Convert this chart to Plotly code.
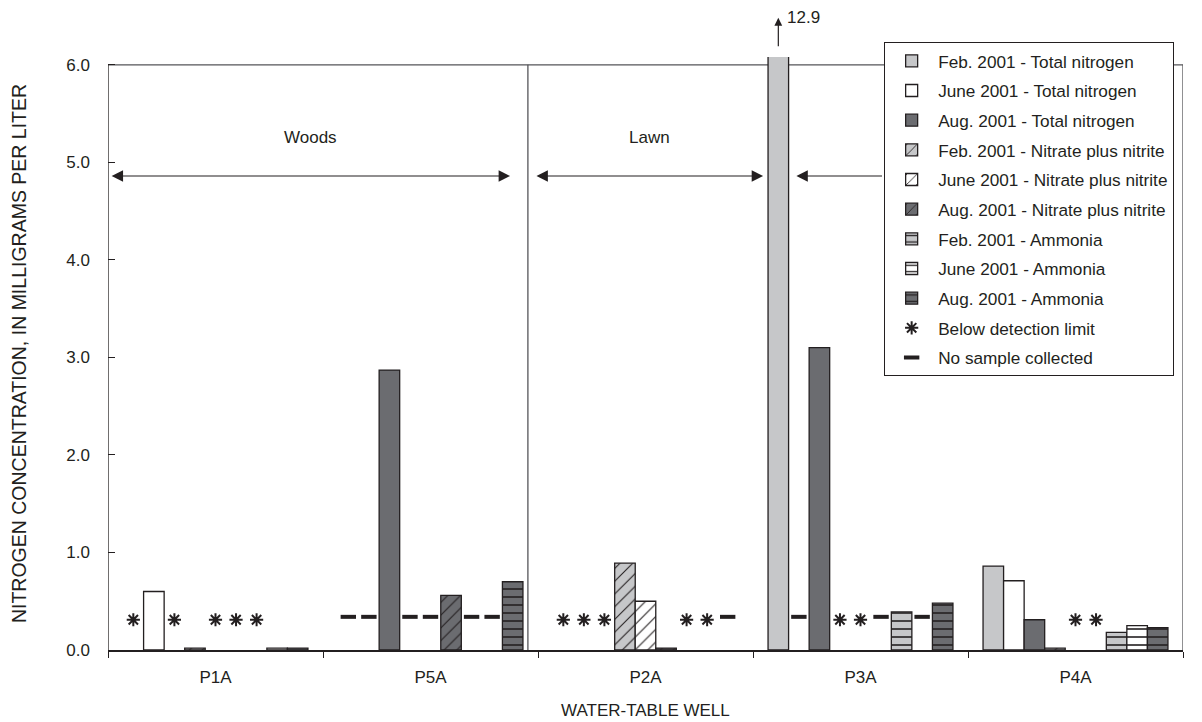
import plotly.graph_objects as go

# ---------------- data ----------------
wells = ["P1A", "P5A", "P2A", "P3A", "P4A"]

# numeric = concentration (mg/L); "*" = below detection limit; "-" = no sample collected
feb_total_n = ["*", "-", "*", 12.9, 0.86]
jun_total_n = [0.60, "-", "*", "-", 0.71]
aug_total_n = ["*", 2.87, "*", 3.10, 0.31]
feb_nitrate = [0.02, "-", 0.89, "*", 0.02]
jun_nitrate = ["*", "-", 0.50, "*", "*"]
aug_nitrate = ["*", 0.56, 0.02, "-", "*"]
feb_ammonia = ["*", "-", "*", 0.39, 0.18]
jun_ammonia = [0.02, "-", "*", "-", 0.25]
aug_ammonia = [0.02, 0.70, "-", 0.48, 0.23]

series_names = [
    "Feb. 2001 - Total nitrogen", "June 2001 - Total nitrogen", "Aug. 2001 - Total nitrogen",
    "Feb. 2001 - Nitrate plus nitrite", "June 2001 - Nitrate plus nitrite", "Aug. 2001 - Nitrate plus nitrite",
    "Feb. 2001 - Ammonia", "June 2001 - Ammonia", "Aug. 2001 - Ammonia",
]
series_values = [feb_total_n, jun_total_n, aug_total_n,
                 feb_nitrate, jun_nitrate, aug_nitrate,
                 feb_ammonia, jun_ammonia, aug_ammonia]

region_labels = ["Woods", "Lawn"]

# ---------------- styles ----------------
FEB = "#c6c7c9"
JUN = "#ffffff"
AUG = "#6b6c70"
INK = "#231f20"
FRAME = "#555558"
FONT = "Liberation Sans, Arial, sans-serif"

fills = [FEB, JUN, AUG] * 3
patterns = ["", "", "", "/", "/", "/", "-", "-", "-"]

BARGAP = 0.14
n_series = len(series_names)
slot_w = (1 - BARGAP) / n_series


def slot_center(well_idx, series_idx):
    return well_idx - (1 - BARGAP) / 2 + (series_idx + 0.5) * slot_w


fig = go.Figure()

for k, (name, vals) in enumerate(zip(series_names, series_values)):
    xs = [i for i, v in enumerate(vals) if isinstance(v, (int, float))]
    ys = [v for v in vals if isinstance(v, (int, float))]
    pat = dict(shape=patterns[k], fgcolor=INK, bgcolor=fills[k], fillmode="replace")
    if patterns[k] == "/":
        pat.update(size=9, solidity=0.12)
    elif patterns[k] == "-":
        pat.update(size=8, solidity=0.2)
    fig.add_trace(go.Bar(
        x=xs, y=ys, name=name, legendgroup=name,
        marker=dict(color=fills[k], line=dict(color=INK, width=1.3), pattern=pat),
    ))

# flags
star_x, star_y, dash_x, dash_y = [], [], [], []
for k, vals in enumerate(series_values):
    for i, v in enumerate(vals):
        if v == "*":
            star_x.append(slot_center(i, k)); star_y.append(0.31)
        elif v == "-":
            dash_x.append(slot_center(i, k)); dash_y.append(0.34)

fig.add_trace(go.Scatter(
    x=star_x, y=star_y, mode="markers", name="Below detection limit",
    legendgroup="star",
    marker=dict(symbol="asterisk-open", size=11, color=INK, line=dict(color=INK, width=2)),
))
fig.add_trace(go.Scatter(
    x=dash_x, y=dash_y, mode="markers", name="No sample collected",
    legendgroup="dash",
    marker=dict(symbol="line-ew-open", size=11, color=INK, line=dict(color=INK, width=4)),
))

# ---------------- annotations ----------------
annotations = []
ARW = dict(showarrow=True, arrowhead=2, arrowsize=1.9, startarrowhead=2, startarrowsize=1.9,
           arrowwidth=1.2, arrowcolor=INK, text="")


def span_arrow(x0, x1, y, side):
    return dict(x=x1, y=y, ax=x0, ay=y, xref="x", yref="y", axref="x", ayref="y",
                arrowside=side, **ARW)


annotations.append(span_arrow(-0.49, 1.37, 4.86, "end+start"))
annotations.append(span_arrow(1.486, 2.547, 4.86, "end+start"))
annotations.append(span_arrow(2.695, 3.10, 4.86, "start"))
annotations.append(dict(x=0.44, y=5.25, xref="x", yref="y", text=region_labels[0], showarrow=False,
                        font=dict(size=17, color=INK)))
annotations.append(dict(x=2.02, y=5.25, xref="x", yref="y", text=region_labels[1], showarrow=False,
                        font=dict(size=17, color=INK)))

# off-scale bar value (bar truncated at top of chart)
off_x = slot_center(3, 0)
annotations.append(dict(x=off_x, y=1.066, ax=0, ay=30, xref="x", yref="paper",
                        axref="pixel", ayref="pixel", showarrow=True, arrowhead=2, arrowsize=1.3,
                        arrowwidth=1.2, arrowcolor=INK, text=""))
annotations.append(dict(x=off_x, y=1.067, xref="x", yref="paper", text=f"{feb_total_n[3]}",
                        showarrow=False, xanchor="left", yanchor="middle", xshift=7,
                        font=dict(size=17, color=INK)))

# x axis title
annotations.append(dict(x=0.5, y=-0.1012, xref="paper", yref="paper", text="WATER-TABLE WELL",
                        showarrow=False, xanchor="center", yanchor="middle",
                        font=dict(size=17, color=INK)))

# ---------------- frame shapes ----------------
shapes = [
    dict(type="line", xref="x", yref="y", x0=-0.5, x1=4.5, y0=6.0, y1=6.0, line=dict(color=FRAME, width=1.3), layer="below"),
    dict(type="line", xref="x", yref="y", x0=-0.5, x1=-0.5, y0=0, y1=6.0, line=dict(color=INK, width=1.3), layer="below"),
    dict(type="line", xref="x", yref="y", x0=4.5, x1=4.5, y0=0, y1=6.0, line=dict(color=FRAME, width=1.3), layer="below"),
    dict(type="line", xref="x", yref="y", x0=1.453, x1=1.453, y0=0, y1=6.0, line=dict(color=FRAME, width=1.3), layer="below"),
]

fig.update_layout(
    width=1202, height=722,
    margin=dict(l=108, r=19, t=57, b=72),
    paper_bgcolor="white", plot_bgcolor="white",
    font=dict(family=FONT, size=17, color=INK),
    barmode="group", bargap=BARGAP, bargroupgap=0,
    showlegend=True,
    legend=dict(x=0.722, y=1.025, xanchor="left", yanchor="top",
                bordercolor=INK, borderwidth=1, bgcolor="white",
                font=dict(size=17.2, color=INK), tracegroupgap=4.3, itemwidth=43),
    annotations=annotations,
    shapes=shapes,
    xaxis=dict(range=[-0.5, 4.5], tickmode="array", tickvals=list(range(len(wells))), ticktext=wells,
               ticks="outside", ticklen=11, tickcolor="rgba(0,0,0,0)",
               showline=True, linecolor=INK, linewidth=1.5, showgrid=False, zeroline=False,
               minor=dict(tickmode="array", tickvals=[i - 0.5 for i in range(len(wells) + 1)],
                          ticks="outside", ticklen=6, tickwidth=1, tickcolor=INK, showgrid=False)),
    yaxis=dict(range=[0, 6.08], tickmode="array", tickvals=[0, 1, 2, 3, 4, 5, 6], tickformat=".1f",
               ticks="inside", ticklen=7, tickwidth=1, tickcolor=INK, showline=False,
               showgrid=False, zeroline=False, ticklabelstandoff=17,
               title=dict(text="NITROGEN CONCENTRATION, IN MILLIGRAMS PER LITER", standoff=34,
                          font=dict(size=19.5))),
)

fig.write_html("out.html")
